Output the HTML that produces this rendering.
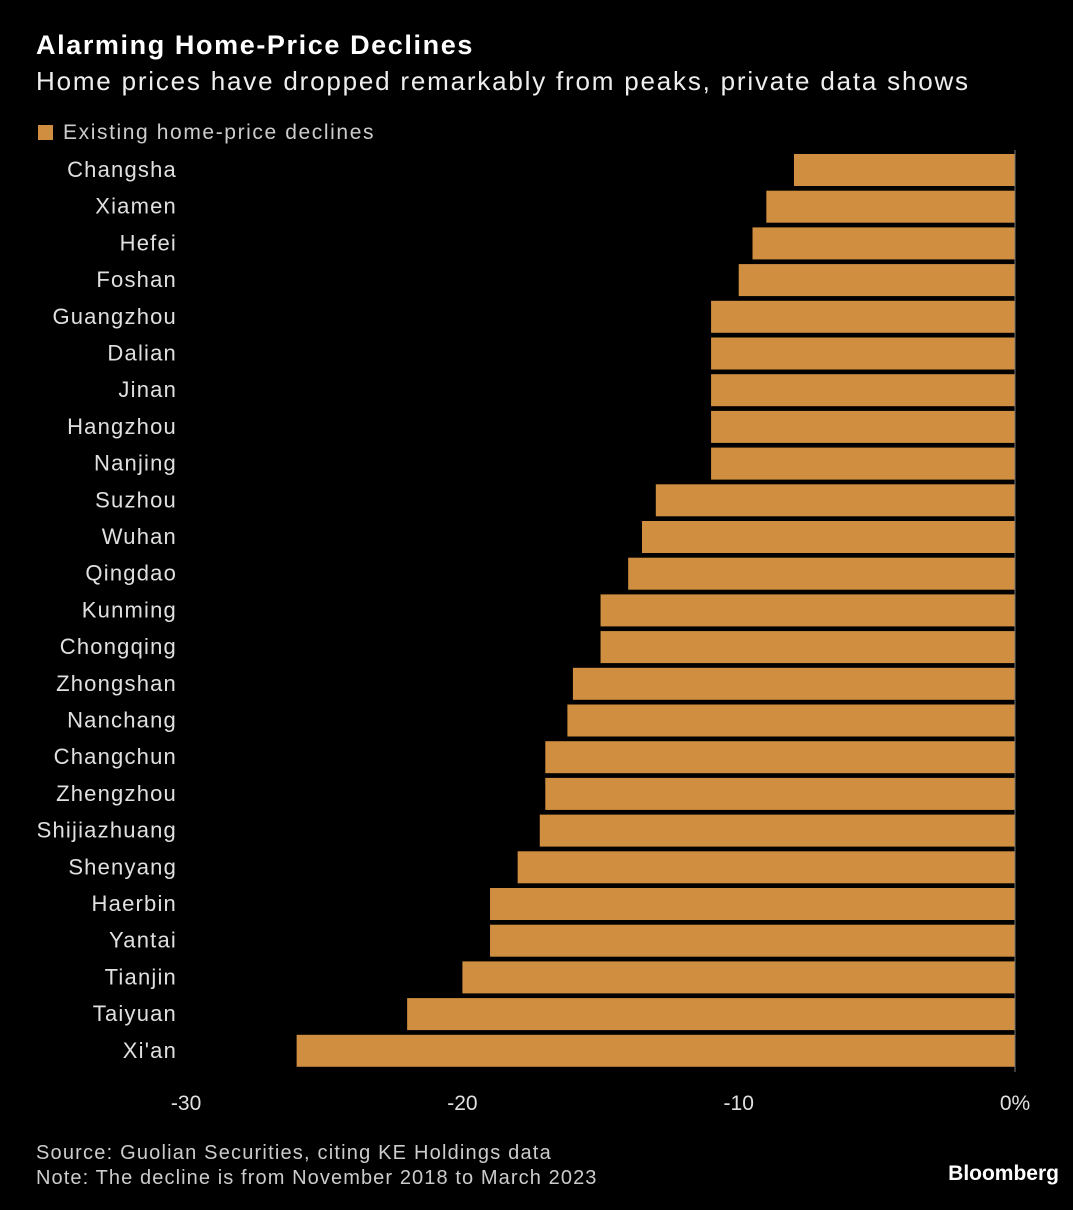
<!DOCTYPE html>
<html><head><meta charset="utf-8"><style>
body{margin:0;background:#000;width:1073px;height:1210px;overflow:hidden;font-family:"Liberation Sans",sans-serif;color:#e6e6e6}
.t{position:absolute;white-space:nowrap}
</style></head><body>
<div class="t" style="left:36px;top:30px;font-size:27px;font-weight:bold;color:#fff;letter-spacing:1.6px">Alarming Home-Price Declines</div>
<div class="t" style="left:36px;top:66px;font-size:26px;color:#eee;letter-spacing:1.8px">Home prices have dropped remarkably from peaks, private data shows</div>
<div class="t" style="left:38px;top:121px;font-size:21px;color:#ccc;letter-spacing:1.6px"><span style="display:inline-block;width:15px;height:15px;background:#d08f40;margin-right:10px;vertical-align:-1px"></span>Existing home-price declines</div>
<svg id="c" width="1073" height="1210" style="position:absolute;left:0;top:0"></svg>
<div class="t" style="left:36px;top:1142px;font-size:20px;color:#ccc;letter-spacing:1.2px">Source: Guolian Securities, citing KE Holdings data</div>
<div class="t" style="left:36px;top:1167px;font-size:20px;color:#ccc;letter-spacing:1.1px">Note: The decline is from November 2018 to March 2023</div>
<div class="t" style="right:14px;top:1162px;font-size:21px;font-weight:bold;color:#fff">Bloomberg</div>
<script>
const cities=["Changsha","Xiamen","Hefei","Foshan","Guangzhou","Dalian","Jinan","Hangzhou","Nanjing","Suzhou","Wuhan","Qingdao","Kunming","Chongqing","Zhongshan","Nanchang","Changchun","Zhengzhou","Shijiazhuang","Shenyang","Haerbin","Yantai","Tianjin","Taiyuan","Xi'an"];
const declines=[-8,-9,-9.5,-10,-11,-11,-11,-11,-11,-13,-13.5,-14,-15,-15,-16,-16.2,-17,-17,-17.2,-18,-19,-19,-20,-22,-26];
const ticks=[-30,-20,-10,0];
const tickLabels=["-30","-20","-10","0%"];
const svg=document.getElementById('c');const NS='http://www.w3.org/2000/svg';
const x=v=>1015+v*27.63;
const y=i=>154+i*36.7;
cities.forEach((c,i)=>{
 const r=document.createElementNS(NS,'rect');
 
 
 r.setAttribute('x',x(declines[i]));r.setAttribute('y',y(i));
 r.setAttribute('width',x(0)-x(declines[i]));r.setAttribute('height',32);
 r.setAttribute('fill','#d08f40');svg.appendChild(r);
 const t=document.createElementNS(NS,'text');
 
 
 t.setAttribute('x',177);t.setAttribute('y',y(i)+23);t.setAttribute('text-anchor','end');
 t.setAttribute('letter-spacing','1.2');
 t.setAttribute('font-size','22');t.setAttribute('fill','#e0e0e0');t.textContent=c;svg.appendChild(t);
});
const l=document.createElementNS(NS,'line');


l.setAttribute('x1',x(0));l.setAttribute('x2',x(0));l.setAttribute('y1',150);l.setAttribute('y2',1072);
l.setAttribute('stroke','#777');l.setAttribute('stroke-width','1');svg.appendChild(l);
ticks.forEach((v,i)=>{
 const t=document.createElementNS(NS,'text');
 
 
 t.setAttribute('x',x(v));t.setAttribute('y',1110);t.setAttribute('text-anchor','middle');
 t.setAttribute('font-size','21');t.setAttribute('fill','#e0e0e0');t.textContent=tickLabels[i];svg.appendChild(t);
});
</script>
</body></html>
